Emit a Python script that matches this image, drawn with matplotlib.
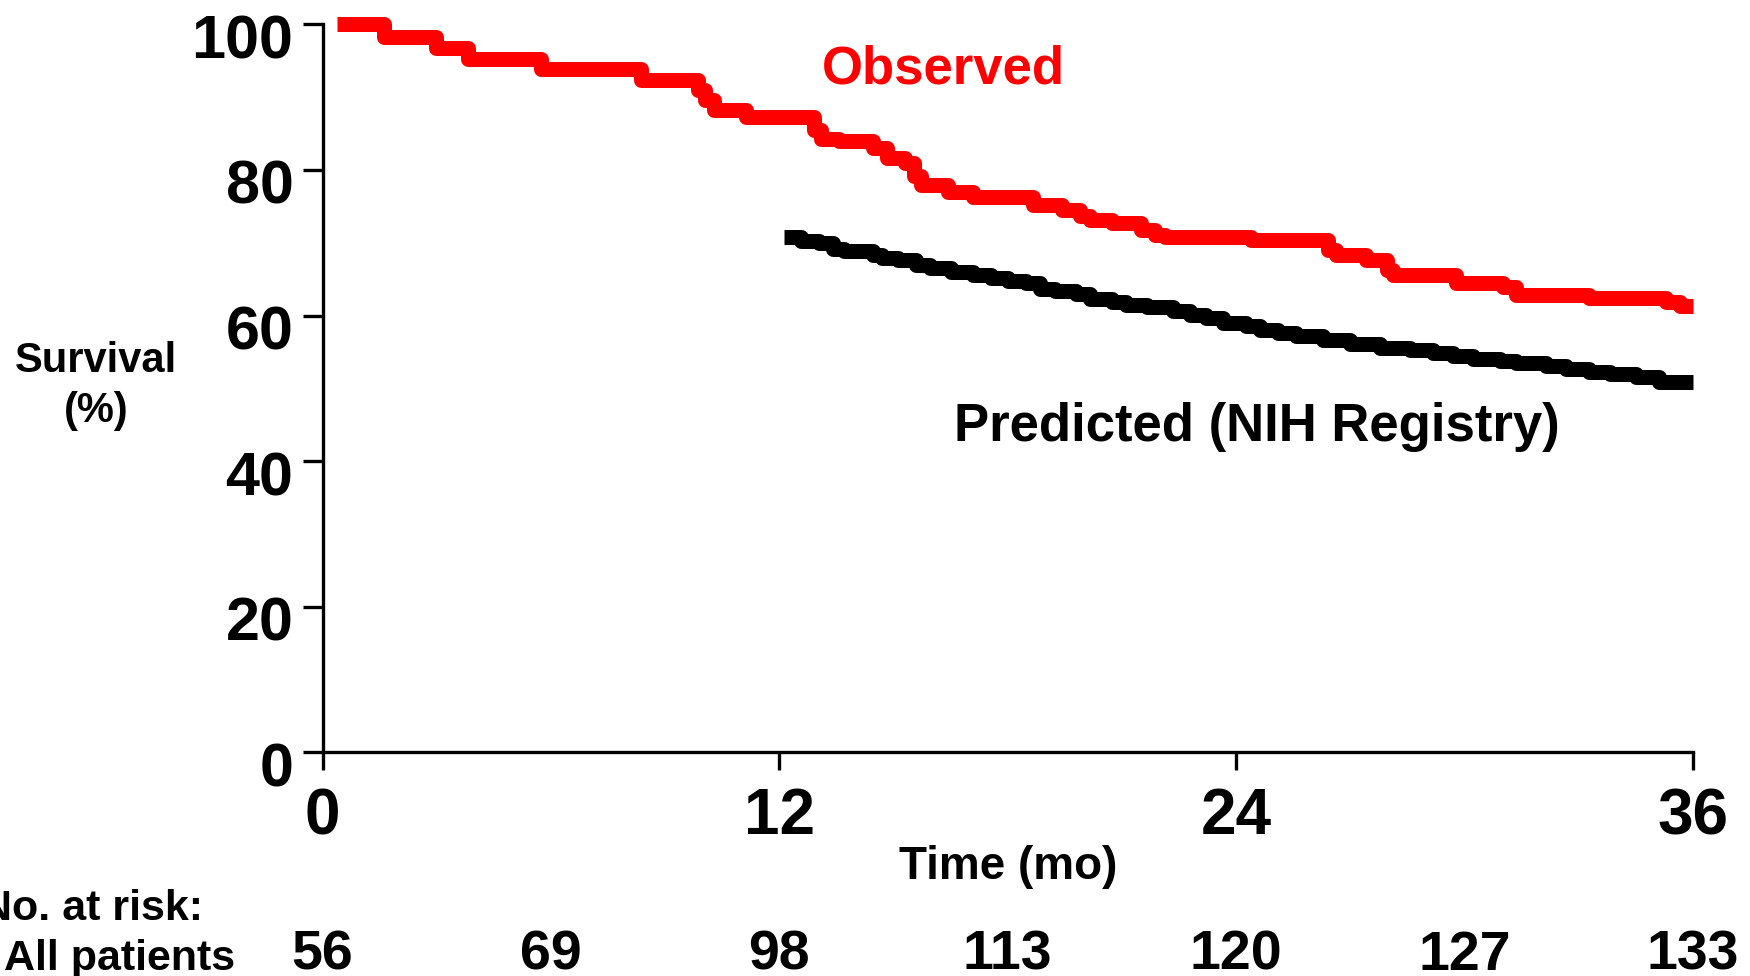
import matplotlib
matplotlib.use("Agg")
import matplotlib.pyplot as plt
import matplotlib.transforms as mtransforms

plt.rcParams['font.family'] = ['Liberation Sans', 'DejaVu Sans']
plt.rcParams['font.weight'] = 'bold'

# Observed Kaplan-Meier curve (month, survival %)
obs_t = [0.39, 1.61, 2.97, 3.82, 5.74, 8.37, 9.86, 10.04, 10.28, 11.13,
         12.91, 13.10, 13.57, 14.45, 14.82, 15.30, 15.53, 15.72, 16.42, 17.08,
         18.67, 19.42, 19.89, 20.17, 20.73, 21.49, 21.86, 22.14, 24.39, 26.40,
         26.63, 27.42, 27.95, 28.12, 29.78, 31.00, 31.36, 33.28, 35.30, 35.65, 36.0]
obs_s = [100.0, 98.2, 96.7, 95.2, 93.8, 92.3, 91.0, 89.6, 88.2, 87.3,
         85.5, 84.3, 84.0, 83.0, 81.6, 80.9, 79.1, 77.9, 77.0, 76.3,
         75.2, 74.5, 73.6, 73.1, 72.7, 71.7, 71.1, 70.8, 70.4, 69.0,
         68.3, 67.6, 66.3, 65.6, 64.4, 63.9, 62.8, 62.4, 61.9, 61.3, 61.3]

# Predicted (NIH Registry) curve
pred_t = [12.11, 12.58, 13.05, 13.42, 13.70, 14.45, 14.69, 15.11, 15.58, 15.95,
          16.51, 17.08, 17.55, 18.02, 18.48, 18.86, 19.24, 19.80, 20.17, 20.73,
          21.11, 21.67, 22.35, 22.80, 23.20, 23.65, 24.27, 24.62, 25.10, 25.58,
          26.28, 26.98, 27.77, 28.56, 29.17, 29.70, 30.22, 30.92, 31.36, 32.15,
          32.67, 33.28, 33.81, 34.51, 35.12, 36.0]
pred_s = [70.8, 70.3, 69.9, 69.2, 68.8, 68.3, 67.9, 67.6, 66.9, 66.5,
          66.0, 65.6, 65.1, 64.8, 64.4, 63.7, 63.4, 62.9, 62.3, 61.8,
          61.5, 61.2, 60.6, 60.1, 59.6, 59.0, 58.5, 58.0, 57.6, 57.2,
          56.7, 56.1, 55.6, 55.2, 54.9, 54.5, 54.0, 53.8, 53.5, 53.1,
          52.6, 52.3, 52.0, 51.5, 50.8, 50.8]

xticks = [0, 12, 24, 36]
yticks = [0, 20, 40, 60, 80, 100]
risk_t = [0, 6, 12, 18, 24, 30, 36]
risk_n = [56, 69, 98, 113, 120, 127, 133]

fig = plt.figure(figsize=(17.5, 9.76), dpi=100)
ax = fig.add_axes([0.1843, 0.2292, 0.7831, 0.7459])

lw = 10.8
ax.step(obs_t, obs_s, where='post', color='#ff0000', lw=lw,
        solid_joinstyle='round', solid_capstyle='butt', clip_on=False, zorder=3)
ax.step(pred_t, pred_s, where='post', color='black', lw=lw,
        solid_joinstyle='round', solid_capstyle='butt', clip_on=False, zorder=3)

ax.set_xlim(0, 36)
ax.set_ylim(0, 100)
ax.set_xticks(xticks)
ax.set_yticks(yticks)
for s in ['top', 'right']:
    ax.spines[s].set_visible(False)
for s in ['left', 'bottom']:
    ax.spines[s].set_linewidth(2.4)
ax.tick_params(axis='y', length=14.4, width=2.4, pad=6.5, labelsize=44)
ax.tick_params(axis='x', length=13, width=2.4, pad=12, labelsize=46)
for lab in ax.get_yticklabels():
    lab.set_fontweight('bold')
    lab.set_transform(lab.get_transform() +
                      mtransforms.ScaledTranslation(0, -12 / 100, fig.dpi_scale_trans))
for lab in ax.get_xticklabels():
    lab.set_fontweight('bold')

ax.text(13.12, 91.9, 'Observed', color='#ff0000', fontsize=38,
        fontweight='bold', ha='left', va='baseline')
ax.text(16.6, 42.7, 'Predicted (NIH Registry)', color='black', fontsize=38,
        fontweight='bold', ha='left', va='baseline')

W, H = 1750, 976
fig.text(96 / W, 1 - 386 / H, 'Survival\n(%)', fontsize=30, fontweight='bold',
         ha='center', va='center', linespacing=1.3)
fig.text(1008 / W, 1 - 879 / H, 'Time (mo)', fontsize=33, fontweight='bold',
         ha='center', va='baseline')
fig.text(203 / W, 1 - 920 / H, 'No. at risk:', fontsize=31, fontweight='bold',
         ha='right', va='baseline')
fig.text(235 / W, 1 - 970 / H, 'All patients', fontsize=31, fontweight='bold',
         ha='right', va='baseline')

trans = mtransforms.blended_transform_factory(ax.transData, fig.transFigure)
for t, n in zip(risk_t, risk_n):
    ax.text(t, 1 - 970 / H, str(n), transform=trans, fontsize=40,
            fontweight='bold', ha='center', va='baseline', clip_on=False)

fig.savefig('out.png', dpi=100)
